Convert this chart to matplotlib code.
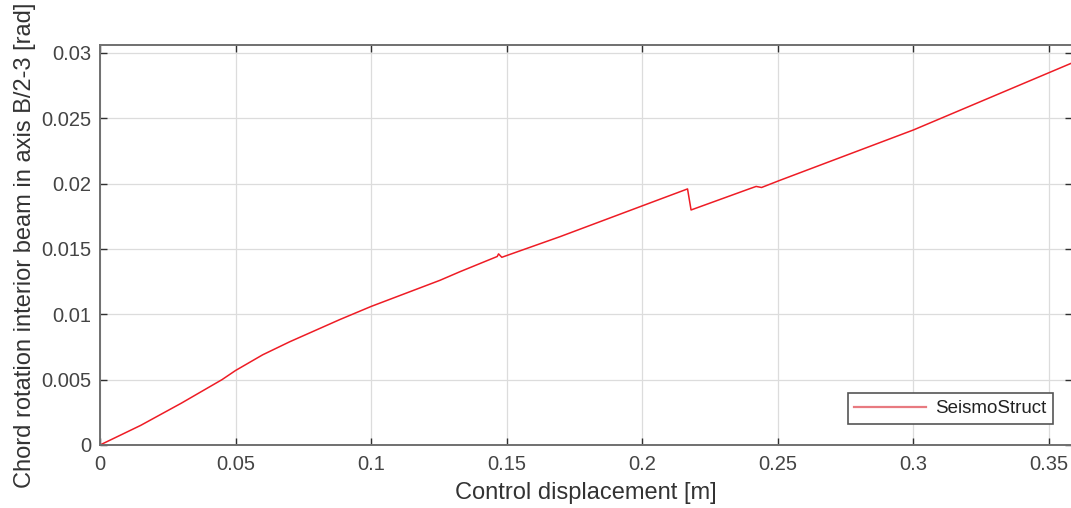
import matplotlib
matplotlib.use("Agg")
import matplotlib.pyplot as plt

# Data
disp = [0.0, 0.008, 0.015, 0.030, 0.045, 0.050, 0.060, 0.070, 0.0885, 0.100,
        0.1254, 0.1328, 0.1465, 0.1470, 0.1482, 0.1697, 0.2029, 0.2167, 0.2180,
        0.2398, 0.2420, 0.2440, 0.2508, 0.300, 0.3582]
rot = [0.0, 0.0008, 0.0015, 0.0032, 0.0050, 0.0057, 0.0069, 0.0079, 0.0096, 0.0106,
       0.0126, 0.01326, 0.01442, 0.01462, 0.01436, 0.01594, 0.01852, 0.01959, 0.01798,
       0.01962, 0.01978, 0.01970, 0.02025, 0.0241, 0.0292]

xticks = [0, 0.05, 0.1, 0.15, 0.2, 0.25, 0.3, 0.35]
xticklabels = ["0", "0.05", "0.1", "0.15", "0.2", "0.25", "0.3", "0.35"]
yticks = [0, 0.005, 0.01, 0.015, 0.02, 0.025, 0.03]
yticklabels = ["0", "0.005", "0.01", "0.015", "0.02", "0.025", "0.03"]

plt.rcParams['font.family'] = ['Liberation Sans', 'DejaVu Sans']

fig = plt.figure(figsize=(10.71, 5.08), dpi=100)
ax = fig.add_axes([100/1071, 63/508, 972/1071, 400/508])

ax.plot(disp, rot, color='#ee1c25', lw=1.1, label='SeismoStruct')

ax.set_xlim(0, 0.3585)
ax.set_ylim(0, 0.0306)
ax.set_xticks(xticks)
ax.set_xticklabels(xticklabels)
ax.set_yticks(yticks)
ax.set_yticklabels(yticklabels)

ax.grid(True, color='#dcdcdc', lw=0.9)
ax.set_axisbelow(True)
ax.tick_params(direction='in', length=5, width=1.0, colors='#303030',
               labelcolor='#444444', labelsize=14.5, top=True, right=True)
ax.tick_params(axis='x', pad=7)
ax.tick_params(axis='y', pad=6)
for s in ax.spines.values():
    s.set_color('#707070')
    s.set_linewidth(1.4)

ax.set_xlabel('Control displacement [m]', fontsize=17, color='#333333', labelpad=6)
ax.set_ylabel('Chord rotation interior beam in axis B/2-3 [rad]', fontsize=17,
              color='#333333', labelpad=4)

leg = ax.legend(loc='lower right', bbox_to_anchor=(0.99, 0.03), fontsize=13.5,
                fancybox=False, edgecolor='#555555', framealpha=1,
                handlelength=3.8, borderpad=0.35, handletextpad=0.5)
leg.get_frame().set_linewidth(1.2)
leg.get_lines()[0].set_color('#e87a80')
leg.get_lines()[0].set_linewidth(1.6)
for t in leg.get_texts():
    t.set_color('#222222')

fig.savefig('out.png', dpi=100)
